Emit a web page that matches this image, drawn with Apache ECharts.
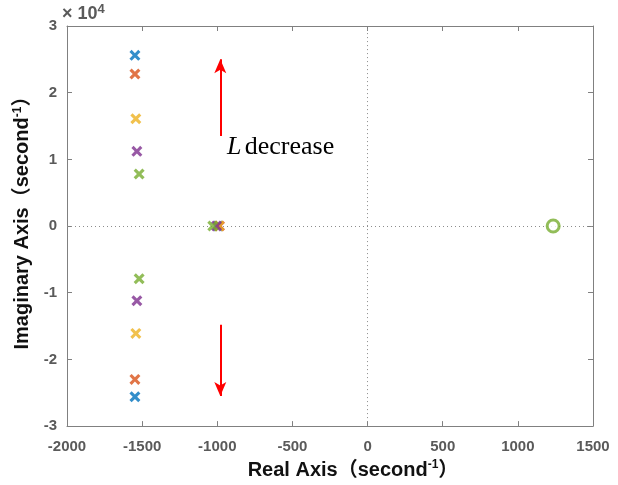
<!DOCTYPE html>
<html><head><meta charset="utf-8">
<script src="https://cdn.jsdelivr.net/npm/echarts@6/dist/echarts.min.js"></script>
<style>html,body{margin:0;padding:0;background:#fff}#c{width:618px;height:485px}</style>
</head><body><div id="c"></div>
<script>
// Poles for each L value (real, imag) — imag in raw units (x1e4 shown on axis)
const seriesNames = ['L1','L2','L3','L4','L5'];
const colors = ['#0072BD','#D95319','#EDB120','#7E2F8E','#77AC30'];
const polesL1 = [[-1548, 25600], [-1548, -25600], [-995, 0]];
const polesL2 = [[-1548, 22800], [-1548, -23000], [-985, 0]];
const polesL3 = [[-1542, 16100], [-1542, -16100], [-990, 0]];
const polesL4 = [[-1535, 11200], [-1535, -11200], [-1005, 0]];
const polesL5 = [[-1520, 7800], [-1520, -7900], [-1030, 0]];
const zerosAll = [[1235, 0]];
const xTicks = {min: -2000, max: 1500, interval: 500};
const yTicks = {min: -30000, max: 30000, interval: 10000};
const arrowUp = [[-980, 13500], [-980, 25000]];
const arrowDown = [[-980, -14800], [-980, -25500]];

const poles = [polesL1, polesL2, polesL3, polesL4, polesL5];
const X_PATH = 'path://M0,2L2,0L5,3L8,0L10,2L7,5L10,8L8,10L5,7L2,10L0,8L3,5Z';
const axisCol = '#808080';
const labCol = '#5a5a5a';
const nameCol = '#111';
const font = '"Liberation Sans", Arial, "Noto Sans CJK SC", sans-serif';

const chart = echarts.init(document.getElementById('c'));
const series = [];
poles.forEach((p, i) => {
  series.push({
    name: seriesNames[i], type: 'scatter', data: p, symbol: X_PATH, symbolSize: 11,
    itemStyle: {color: colors[i]}, z: 5, silent: true
  });
});
series.push({
  type: 'scatter', data: zerosAll, symbol: 'circle', symbolSize: 12,
  itemStyle: {color: '#fff', borderColor: colors[4], borderWidth: 3}, z: 6, silent: true,
  markLine: {
    silent: true, symbol: ['none','none'], animation: false, label: {show: false},
    lineStyle: {color: '#8c8c8c', type: [1, 3], width: 1},
    data: [[{coord: [0, yTicks.min]}, {coord: [0, yTicks.max]}],
           [{coord: [xTicks.min, 0]}, {coord: [xTicks.max, 0]}]]
  }
});
series.push({
  type: 'scatter', data: [], silent: true,
  markLine: {
    silent: true, animation: false, label: {show: false}, symbolSize: [9, 14],
    lineStyle: {color: '#ff0000', type: 'solid', width: 2},
    data: [[{coord: arrowUp[0], symbol: 'none'}, {coord: arrowUp[1], symbol: 'arrow'}],
           [{coord: arrowDown[0], symbol: 'none'}, {coord: arrowDown[1], symbol: 'arrow'}]]
  }
});

const nameRich = {
  a: {fontSize: 20, fontWeight: 'bold', color: nameCol, fontFamily: font},
  s: {fontSize: 12, fontWeight: 'bold', color: nameCol, fontFamily: font, verticalAlign: 'top', padding: [0,0,10,0]}
};

chart.setOption({
  animation: false,
  grid: {left: 67, right: 25, top: 26, bottom: 55, containLabel: false},
  xAxis: [{
    type: 'value', min: xTicks.min, max: xTicks.max, interval: xTicks.interval,
    axisLine: {show: true, onZero: false, lineStyle: {color: axisCol, width: 1}},
    axisTick: {show: true, inside: true, length: 5, lineStyle: {color: axisCol}},
    splitLine: {show: false},
    axisLabel: {color: labCol, fontWeight: 'bold', fontSize: 15, fontFamily: font, margin: 13,
      formatter: v => String(v)},
    name: '{a|Real Axis（second}{s|-1}{a|）}', nameLocation: 'middle', nameGap: 28,
    nameTextStyle: {rich: nameRich, padding: [0, 0, 0, 46]}
  }, {
    type: 'value', position: 'top', min: xTicks.min, max: xTicks.max, interval: xTicks.interval,
    axisLine: {show: true, onZero: false, lineStyle: {color: axisCol, width: 1}},
    axisTick: {show: true, inside: true, length: 5, lineStyle: {color: axisCol}},
    axisLabel: {show: false}, splitLine: {show: false}
  }],
  yAxis: [{
    type: 'value', min: yTicks.min, max: yTicks.max, interval: yTicks.interval,
    axisLine: {show: true, onZero: false, lineStyle: {color: axisCol, width: 1}},
    axisTick: {show: true, inside: true, length: 5, lineStyle: {color: axisCol}},
    splitLine: {show: false},
    axisLabel: {color: labCol, fontWeight: 'bold', fontSize: 15, fontFamily: font, margin: 10,
      formatter: v => String(v / 1e4)},
    name: '{a|Imaginary Axis（second}{s|-1}{a|）}', nameLocation: 'middle', nameGap: 29, nameRotate: 90,
    nameTextStyle: {rich: nameRich, padding: [0, 0, 0, 16]}
  }, {
    type: 'value', position: 'right', min: yTicks.min, max: yTicks.max, interval: yTicks.interval,
    axisLine: {show: true, onZero: false, lineStyle: {color: axisCol, width: 1}},
    axisTick: {show: true, inside: true, length: 5, lineStyle: {color: axisCol}},
    axisLabel: {show: false}, splitLine: {show: false}
  }],
  graphic: [{
    type: 'text', left: 62, top: 3, silent: true,
    style: {text: '{a|× 10}{s|4}', rich: {
      a: {fontSize: 18, fontWeight: 'bold', fill: labCol, fontFamily: font},
      s: {fontSize: 13, fontWeight: 'bold', fill: labCol, fontFamily: font, verticalAlign: 'top', padding: [0,0,9,0]}
    }}
  }, {
    type: 'text', left: 227, top: 134, silent: true,
    style: {text: '{i|L} {r|decrease}', rich: {
      i: {fontSize: 26, fontStyle: 'italic', fill: '#000', fontFamily: '"Liberation Serif", "Times New Roman", serif'},
      r: {fontSize: 26, fill: '#000', fontFamily: '"Liberation Serif", "Times New Roman", serif'}
    }}
  }],
  series: series
});
</script></body></html>
